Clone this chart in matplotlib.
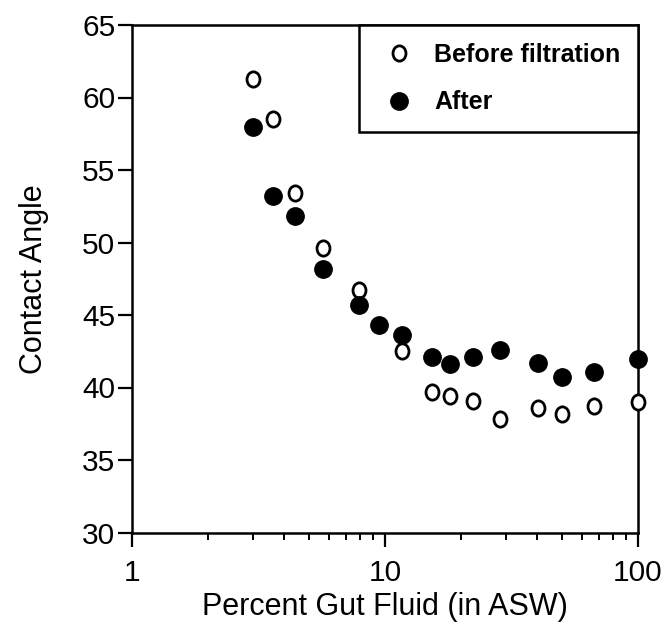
import numpy as np
import matplotlib.pyplot as plt
from matplotlib.markers import MarkerStyle
from matplotlib.transforms import Affine2D

plt.rcParams['font.family'] = ['Liberation Sans', 'DejaVu Sans']

# percent gut fluid (log axis)
gut_pct = [3.0, 3.6, 4.4, 5.7, 7.9, 9.5, 11.7, 15.4, 18.1, 22.2, 28.5, 40.1, 50.2, 67.0, 100.0]

# before filtration (no point at 9.5)
before_x = [3.0, 3.6, 4.4, 5.7, 7.9, 11.7, 15.4, 18.1, 22.2, 28.5, 40.1, 50.2, 67.0, 100.0]
before_y = [61.3, 58.5, 53.4, 49.6, 46.7, 42.5, 39.7, 39.4, 39.1, 37.8, 38.6, 38.2, 38.7, 39.0]

# after filtration
after_y = [58.0, 53.2, 51.8, 48.2, 45.7, 44.3, 43.6, 42.1, 41.6, 42.1, 42.6, 41.7, 40.7, 41.1, 42.0]

fig = plt.figure(figsize=(6.65, 6.25), dpi=100)
ax = fig.add_axes([0.1985, 0.148, 0.7609, 0.812])

# open markers look like a slightly narrow letter "o"
open_mk = MarkerStyle('o', transform=Affine2D().scale(0.85, 1.0))

ax.plot(before_x, before_y, linestyle='none', marker=open_mk, markersize=11,
        markerfacecolor='white', markeredgecolor='black', markeredgewidth=2.0,
        label='Before filtration', clip_on=False, zorder=3)
ax.plot(gut_pct, after_y, linestyle='none', marker='o', markersize=12.5,
        color='black', label='After', clip_on=False, zorder=4)

ax.set_xscale('log')
ax.set_xlim(1, 100)
ax.set_ylim(30, 65)
ax.set_yticks(np.arange(30, 66, 5))
ax.set_xticks([1, 10, 100])
ax.set_xticklabels(['1', '10', '100'])

for s in ax.spines.values():
    s.set_linewidth(1.8)

ax.tick_params(axis='both', which='major', direction='out', length=10, width=1.6,
               labelsize=21.5)
ax.tick_params(axis='x', which='major', pad=9)
ax.tick_params(axis='y', which='major', pad=2)
ax.tick_params(axis='x', which='minor', direction='out', length=5, width=1.4)

ax.set_xlabel('Percent Gut Fluid (in ASW)', fontsize=22, labelpad=4)
ax.set_ylabel('Contact Angle', fontsize=22, labelpad=24)

leg = ax.legend(loc='upper right', bbox_to_anchor=(1.0, 1.0), borderaxespad=0,
                fancybox=False, edgecolor='black', framealpha=1,
                prop={'size': 18, 'weight': 'bold'},
                handletextpad=0.5, labelspacing=0.95, borderpad=0.7,
                handlelength=1.8)
leg.get_frame().set_linewidth(1.8)

fig.savefig('out.png', dpi=100)
